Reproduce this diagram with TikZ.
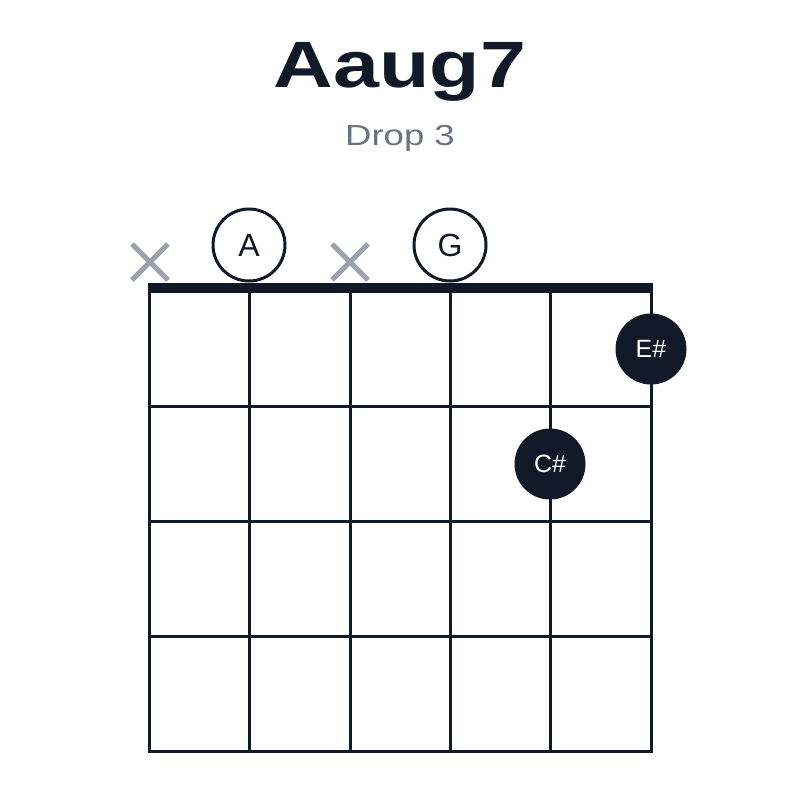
\documentclass[tikz,border=0pt]{standalone}
\usepackage{fontspec}
\setmainfont{Liberation Sans}
\newfontfamily\widesans[FakeStretch=1.26]{Liberation Sans}
\usepackage{tikz}
\usetikzlibrary{positioning}
\definecolor{ink}{RGB}{17,24,39}
\definecolor{subgray}{RGB}{107,114,128}
\definecolor{mutegray}{RGB}{156,163,175}
\tikzset{
  title/.style={
    anchor=base,
    text=ink,
    font=\widesans\bfseries\fontsize{65.5}{70}\selectfont
  },
  subtitle/.style={
    anchor=base,
    text=subgray,
    font=\widesans\fontsize{29}{32}\selectfont
  },
  opennote/.style={
    circle,
    minimum size=72pt,
    inner sep=0pt,
    draw=ink,
    line width=3pt,
    fill=white,
    text=ink,
    font=\fontsize{32}{34}\selectfont
  },
  fretnote/.style={
    circle,
    minimum size=71pt,
    inner sep=0pt,
    fill=ink,
    text=white,
    font=\fontsize{25}{28}\selectfont
  },
  mute/.style={draw=mutegray, line width=5pt},
  gridline/.style={draw=ink, line width=3pt}
}

\begin{document}
\begin{tikzpicture}[x=1pt, y=-1pt]
  \useasboundingbox [fill=white] (0,0) rectangle (800,800);
  \node (name) [title] at (400,87) {Aaug7};
  \node (voicing) [subtitle] at (400,145.5) {Drop 3};
  % strings and frets
  \foreach \s in {149,249,350,450,550,651}
    \draw [gridline] (\s,290) -- (\s,752.5);
  \foreach \f in {406,521,636,751}
    \draw [gridline] (147.5,\f) -- (652.5,\f);
  \draw [ink, line width=10pt] (147.5,288) -- (652.5,288);
  % muted strings
  \draw [mute] (132,244) -- (168,280) (132,280) -- (168,244);
  \draw [mute] (332,244) -- (368,280) (332,280) -- (368,244);
  % notes
  \node (a) [opennote] at (249,245) {A};
  \node (g) [opennote] at (450,245) {G};
  \node (esharp) [fretnote] at (651,349) {E\#};
  \node (csharp) [fretnote] at (550,464) {C\#};
\end{tikzpicture}
\end{document}
